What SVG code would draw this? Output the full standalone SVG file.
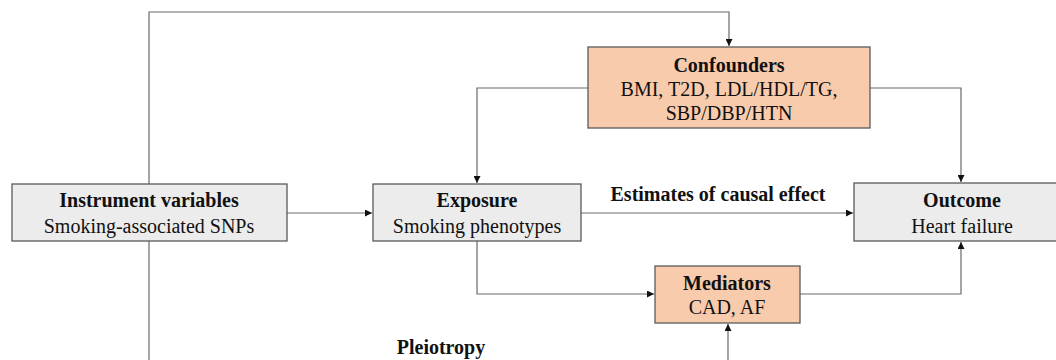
<svg xmlns="http://www.w3.org/2000/svg" width="1056" height="360" viewBox="0 0 1056 360">
<style>
.gray{fill:#ececec;stroke:#5a5a5a;stroke-width:1.3}
.orange{fill:#f8cbad;stroke:#5a5a5a;stroke-width:1.3}
.t{font-family:"Liberation Serif","Times New Roman",serif;font-size:20px;fill:#111;text-anchor:middle}
.b{font-weight:bold}
.c{fill:none;stroke:#6a6a6a;stroke-width:1.2}
</style>
<defs>
<marker id="ah" viewBox="0 0 10 10" refX="10" refY="5" markerWidth="7" markerHeight="7" orient="auto" markerUnits="userSpaceOnUse">
<path d="M0,0L10,5L0,10Z" fill="#111"/>
</marker>
</defs>
<rect width="1056" height="360" fill="#fff"/>
<g id="connectors">
<path class="c" d="M149,184V12H729V46" marker-end="url(#ah)"/>
<path class="c" d="M149,241V360"/>
<path class="c" d="M287,213H372" marker-end="url(#ah)"/>
<path class="c" d="M581,213H853" marker-end="url(#ah)"/>
<path class="c" d="M588,88H477V183" marker-end="url(#ah)"/>
<path class="c" d="M870,88H961V182" marker-end="url(#ah)"/>
<path class="c" d="M477,241V294H654" marker-end="url(#ah)"/>
<path class="c" d="M800,294H961V242" marker-end="url(#ah)"/>
<path class="c" d="M728,360V324" marker-end="url(#ah)"/>
<text class="t b" x="718" y="201">Estimates of causal effect</text>
<text class="t b" x="441" y="354">Pleiotropy</text>
</g>
<g id="instrument">
<rect class="gray" x="12" y="184" width="275" height="57"/>
<text class="t b" x="149" y="207">Instrument variables</text>
<text class="t" x="149" y="233">Smoking-associated SNPs</text>
</g>
<g id="exposure">
<rect class="gray" x="373" y="184" width="208" height="57"/>
<text class="t b" x="477" y="207">Exposure</text>
<text class="t" x="477" y="233">Smoking phenotypes</text>
</g>
<g id="confounders">
<rect class="orange" x="588" y="47" width="282" height="81"/>
<text class="t b" x="729" y="72">Confounders</text>
<text class="t" x="729" y="96">BMI, T2D, LDL/HDL/TG,</text>
<text class="t" x="729" y="120">SBP/DBP/HTN</text>
</g>
<g id="outcome">
<rect class="gray" x="854" y="183" width="216" height="58"/>
<text class="t b" x="962" y="207">Outcome</text>
<text class="t" x="962" y="233">Heart failure</text>
</g>
<g id="mediators">
<rect class="orange" x="655" y="266" width="145" height="57"/>
<text class="t b" x="727" y="290">Mediators</text>
<text class="t" x="727" y="314">CAD, AF</text>
</g>
</svg>
